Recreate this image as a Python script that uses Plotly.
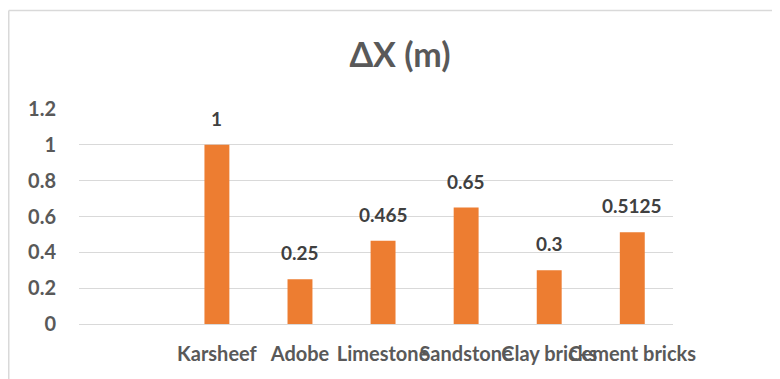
import plotly.graph_objects as go

categories = [" ", "Karsheef", "Adobe", "Limestone", "Sandstone", "Clay bricks", "Cement bricks"]
values = [None, 1, 0.25, 0.465, 0.65, 0.3, 0.5125]
labels = ["", "1", "0.25", "0.465", "0.65", "0.3", "0.5125"]
y_ticks = [0, 0.2, 0.4, 0.6, 0.8, 1, 1.2]
y_tick_text = ["0", "0.2", "0.4", "0.6", "0.8", "1", "1.2"]

# page body has an 8px margin, so the figure is drawn 8px in from the window edge
W, H = 772, 371
L, R, T, B = 71, 107, 101, 55
pw, ph = W - L - R, H - T - B

FONT = "Lato"
TICK = dict(family=FONT, size=20, color="#595959", weight="bold")

fig = go.Figure(go.Bar(
    x=categories, y=values,
    marker=dict(color="#ED7D31", line=dict(width=0)),
))

annotations = []
for c, v, t in zip(categories, values, labels):
    if v is None:
        continue
    annotations.append(dict(
        x=c, y=v, xref="x", yref="y", text=f"<b>{t}</b>", showarrow=False,
        yanchor="bottom", yshift=13,
        font=dict(family=FONT, size=19, color="#404040"),
    ))

def px_x(p):
    return (p - L) / pw

def px_y(p):
    return (H - B - p) / ph

fig.update_layout(
    width=W, height=H, autosize=False,
    margin=dict(l=L, r=R, t=T, b=B, autoexpand=False),
    paper_bgcolor="white", plot_bgcolor="white",
    bargap=0.70, showlegend=False,
    title=dict(text="<b>ΔX (m)</b>", x=(400 - 8) / W, xanchor="center", y=1 - 47 / H, yanchor="middle",
               font=dict(family=FONT, size=34, color="#595959")),
    xaxis=dict(type="category", range=[-0.66, 6.49], tickangle=0, showgrid=False,
               showline=False, ticks="", fixedrange=True, automargin=False,
               ticklabelstandoff=16, tickfont=TICK),
    yaxis=dict(range=[0, 1.2], tickvals=y_ticks, ticktext=y_tick_text, showgrid=True,
               gridcolor="#D9D9D9", gridwidth=1.3, zeroline=True, zerolinecolor="#D9D9D9",
               zerolinewidth=1.3, ticks="", ticklabelstandoff=22, automargin=False,
               tickfont=TICK),
    annotations=annotations,
    shapes=[
        dict(type="line", xref="paper", yref="paper", x0=px_x(0.75), x1=px_x(0.75),
             y0=px_y(2.5), y1=px_y(400), line=dict(color="#D9D9D9", width=1.5)),
        dict(type="line", xref="paper", yref="paper", x0=px_x(0.75), x1=px_x(800),
             y0=px_y(2.5), y1=px_y(2.5), line=dict(color="#D9D9D9", width=1.5)),
    ],
)

fig.write_html("out.html")
